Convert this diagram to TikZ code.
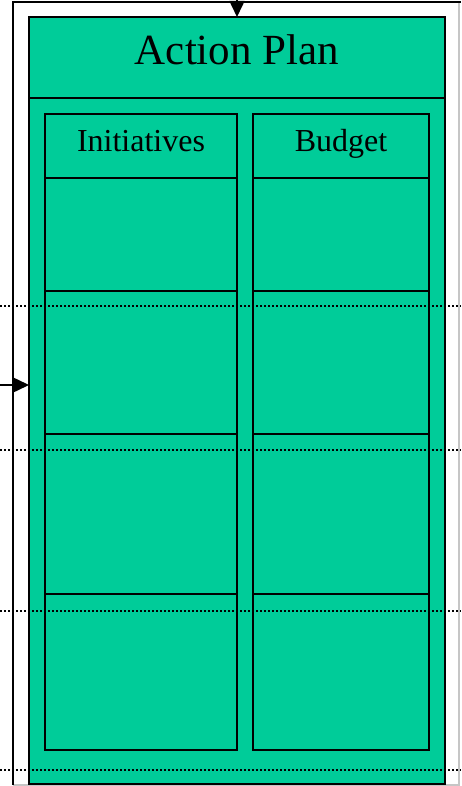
\documentclass[tikz,border=0pt]{standalone}
\usepackage{fontspec}
\setmainfont{Liberation Serif}
\usetikzlibrary{arrows.meta,positioning}
\definecolor{plangreen}{HTML}{00CC99}
\tikzset{
  cell/.style={draw=black, line width=1.9pt, fill=plangreen, anchor=north west,
    inner sep=0pt, outer sep=0pt},
  guide/.style={line width=1.8pt, dash pattern=on 1.6pt off 2.4pt},
  feed/.style={line width=1.5pt, -{Triangle[length=16pt,width=15pt]}},
}
\begin{document}
\begin{tikzpicture}[x=1pt,y=-1pt]
        \useasboundingbox (0,0) rectangle (461,786);
        % outer frame
        \draw[gray!45, line width=1.2pt] (459,2) -- (459,785) -- (13,785);
        \draw[line width=1.9pt] (13,785) -- (13,2) -- (461,2);

        % action plan box
        \node[cell, minimum width=416pt, minimum height=767pt] (plan) at (29,17) {};
        \node[cell, minimum width=416pt, minimum height=81pt] (title) at (29,17) {};
        \node[font=\fontsize{43}{50}\selectfont, anchor=base] (titletxt) at (237,65) {Action Plan};

        \node[cell, minimum width=192pt, minimum height=64pt] (inihead) at (45,114) {};
        \node[cell, minimum width=176pt, minimum height=64pt] (budhead) at (253,114) {};
        \node[font=\fontsize{32}{38}\selectfont, anchor=base] (initxt) at (141,152) {Initiatives};
        \node[font=\fontsize{32}{38}\selectfont, anchor=base] (budtxt) at (341,152) {Budget};

        \foreach \top/\bot [count=\i] in {178/291, 291/434, 434/594, 594/750} {
          \node[cell, minimum width=192pt, minimum height={(\bot-\top)*1pt}] (ini\i) at (45,\top) {};
          \node[cell, minimum width=176pt, minimum height={(\bot-\top)*1pt}] (bud\i) at (253,\top) {};
        }

        % incoming arrows
        \coordinate (topin) at (237,0);
        \coordinate (leftin) at (0,385);
        \draw[feed] (topin) -- (plan.north);
        \draw[feed] (leftin) -- (plan.west |- leftin);

        % dotted guides
        \foreach \y in {306,450,611,770}
          \draw[guide] (0,\y) -- (461,\y);
      \end{tikzpicture}
\end{document}
